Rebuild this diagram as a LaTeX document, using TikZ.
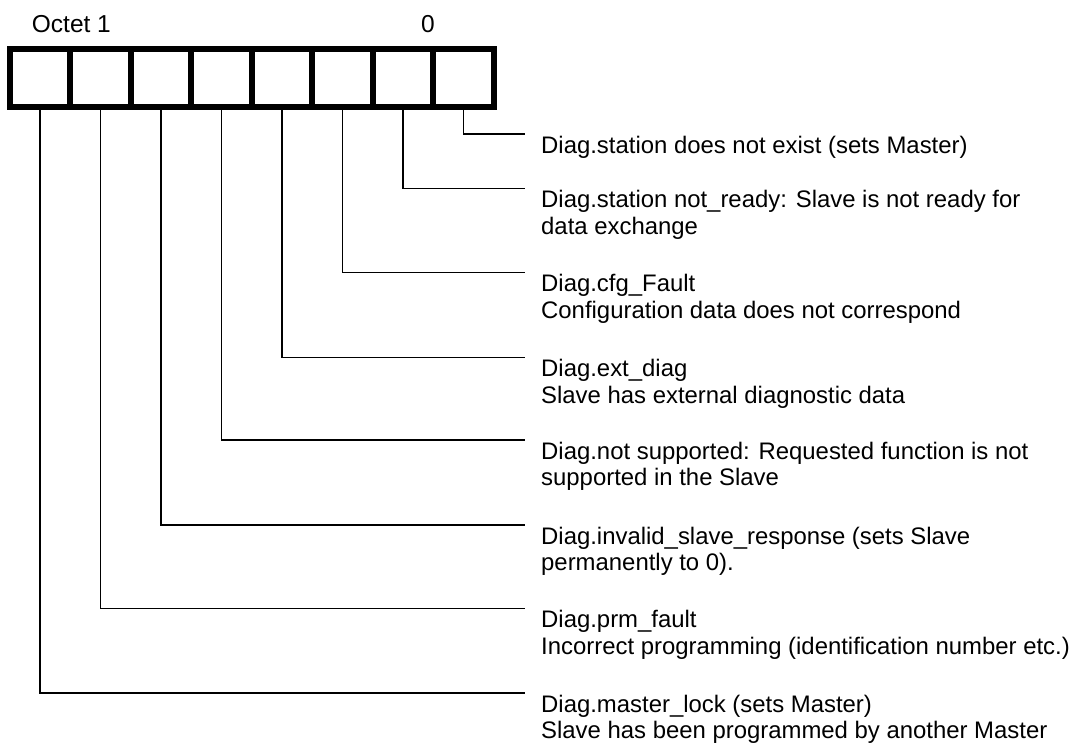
\documentclass[tikz,border=0pt]{standalone}
\usepackage{fontspec}
\setmainfont{Liberation Sans}
\begin{document}
\begin{tikzpicture}[x=1pt,y=-1pt,
  cell/.style={draw, line width=6pt, minimum width=60.5pt, minimum height=58pt, inner sep=0pt, outer sep=0pt},
  lead/.style={line width=1.3pt},
  lbl/.style={anchor=base west, align=left, inner sep=0pt, font=\fontsize{23.9}{26.5}\selectfont},
  hdr/.style={anchor=base, inner sep=0pt, font=\fontsize{24.5}{27}\selectfont}]
\useasboundingbox (0,0) rectangle (1080,747);
% header
\node[hdr, anchor=base west] (oct) at (31.7,32) {Octet 1};
\node[hdr] (zero) at (428,32) {0};
% cells
\foreach \i in {1,...,8} {
  \node[cell] (c\i) at ({9.7+60.5*(\i-0.5)},78) {};
}
% end points of leaders
\coordinate (e8) at (525,134);
\coordinate (e7) at (525,188.3);
\coordinate (e6) at (525,272.7);
\coordinate (e5) at (525,357.3);
\coordinate (e4) at (525,440);
\coordinate (e3) at (525,525);
\coordinate (e2) at (525,608.7);
\coordinate (e1) at (525,693);
% labels (base anchor = baseline of the last line)
\node[lbl] (l8) at (541,153) {Diag.station does not exist (sets Master)};
\node[lbl] (l7) at (541,234) {Diag.station not\_ready: Slave is not ready for\\data exchange};
\node[lbl] (l6) at (541,318.4) {Diag.cfg\_Fault\\Configuration data does not correspond};
\node[lbl] (l5) at (541,403) {Diag.ext\_diag\\Slave has external diagnostic data};
\node[lbl] (l4) at (541,485.7) {Diag.not supported: Requested function is not\\supported in the Slave};
\node[lbl] (l3) at (541,570.7) {Diag.invalid\_slave\_response (sets Slave\\permanently to 0).};
\node[lbl] (l2) at (541,654.4) {Diag.prm\_fault\\Incorrect programming (identification number etc.)};
\node[lbl] (l1) at (541,738.7) {Diag.master\_lock (sets Master)\\Slave has been programmed by another Master};
% leaders
\foreach \i in {1,...,8} {
  \draw[lead] (c\i.south) |- (e\i);
}
\end{tikzpicture}
\end{document}
